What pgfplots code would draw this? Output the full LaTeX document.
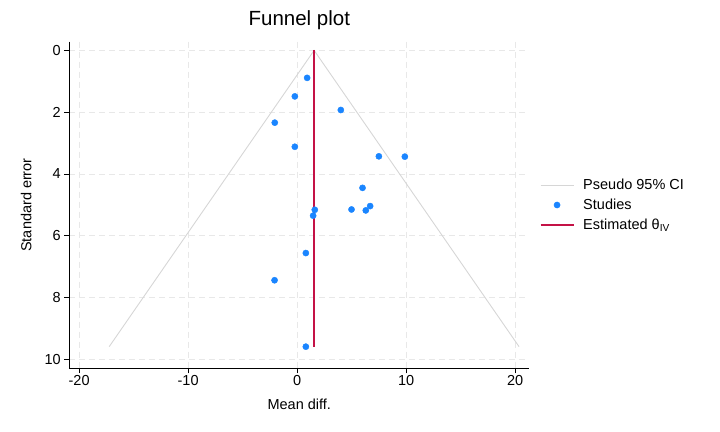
\documentclass[border=0pt]{standalone}
\usepackage{pgfplots}
\pgfplotsset{compat=1.18}
\usepackage{fontspec}
\setmainfont{Liberation Sans}
\definecolor{stcblue}{RGB}{26,133,255}
\definecolor{stcred}{RGB}{196,18,70}
\definecolor{cigray}{RGB}{214,214,214}
\definecolor{gridgray}{RGB}{232,232,232}
\pgfplotsset{
  longline/.style={legend image code/.code={\draw[##1] (0bp,0bp) -- (33bp,0bp);}},
  dotlegend/.style={legend image code/.code={\draw[##1] plot coordinates {(16.5bp,0bp)};}},
}
\begin{document}
\begin{tikzpicture}
\useasboundingbox (-69.3bp,-63.7bp) rectangle (650.7bp,368.3bp);
\begin{axis}[
  at={(0,0)}, anchor=south west,
  scale only axis, width=460bp, height=326.6bp,
  xmin=-20.9, xmax=21.3,
  ymin=-0.28, ymax=10.29, y dir=reverse,
  axis x line*=bottom, axis y line*=left,
  axis line style={black, line width=0.8bp, -},
  xtick={-20,-10,0,10,20}, xticklabels={-20,-10,0,10,20},
  ytick={0,2,4,6,8,10}, yticklabels={0,2,4,6,8,10},
  tick align=outside, major tick length=5bp,
  tick style={black, line width=0.8bp},
  ticklabel style={font=\fontsize{14.5bp}{17bp}\selectfont},
  xticklabel style={yshift=1bp},
  grid=major,
  major grid style={gridgray, dashed, line width=0.8bp, dash pattern=on 6bp off 4bp},
  title={Funnel plot},
  title style={at={(axis description cs:0.5,1)}, anchor=base, yshift=10bp, font=\fontsize{20.5bp}{24bp}\selectfont},
  xlabel={Mean diff.},
  xlabel style={at={(axis description cs:0.5,-0.1246)}, anchor=base, font=\fontsize{14.5bp}{17bp}\selectfont},
  ylabel={Standard error},
  ylabel style={at={(axis description cs:-0.0826,0.5)}, anchor=base, font=\fontsize{14.5bp}{17bp}\selectfont},
  legend style={draw=none, fill=none, at={(1.016,0.5)}, anchor=west,
    font=\fontsize{14.5bp}{17bp}\selectfont, row sep=4bp,
    /tikz/every odd column/.append style={column sep=7bp}},
  legend cell align=left,
  clip=false,
]
\addplot[cigray, line width=0.9bp, longline]
  coordinates {(-17.24,9.59) (1.56,0) (20.36,9.59)};
\addlegendentry{Pseudo 95\% CI}
\addplot[stcred, line width=1.4bp, forget plot]
  coordinates {(1.56,0) (1.56,9.59)};
\addplot[stcblue, only marks, mark=*, mark size=3.1bp, mark options={draw=stcblue, fill=stcblue, line width=0.4bp, solid}, dotlegend]
  coordinates {
  (0.92,0.89) (-0.21,1.49) (4.01,1.93) (-2.05,2.34) (-0.21,3.12)
  (7.50,3.43) (9.88,3.44) (6.00,4.45) (1.62,5.16) (1.47,5.35)
  (4.99,5.15) (6.30,5.18) (6.70,5.04) (0.80,6.56) (-2.07,7.44) (0.80,9.59)
  };
\addlegendentry{Studies}
\addlegendimage{stcred, line width=1.4bp, longline}
\addlegendentry{Estimated θ\textsubscript{IV}}
\end{axis}
\end{tikzpicture}
\end{document}
